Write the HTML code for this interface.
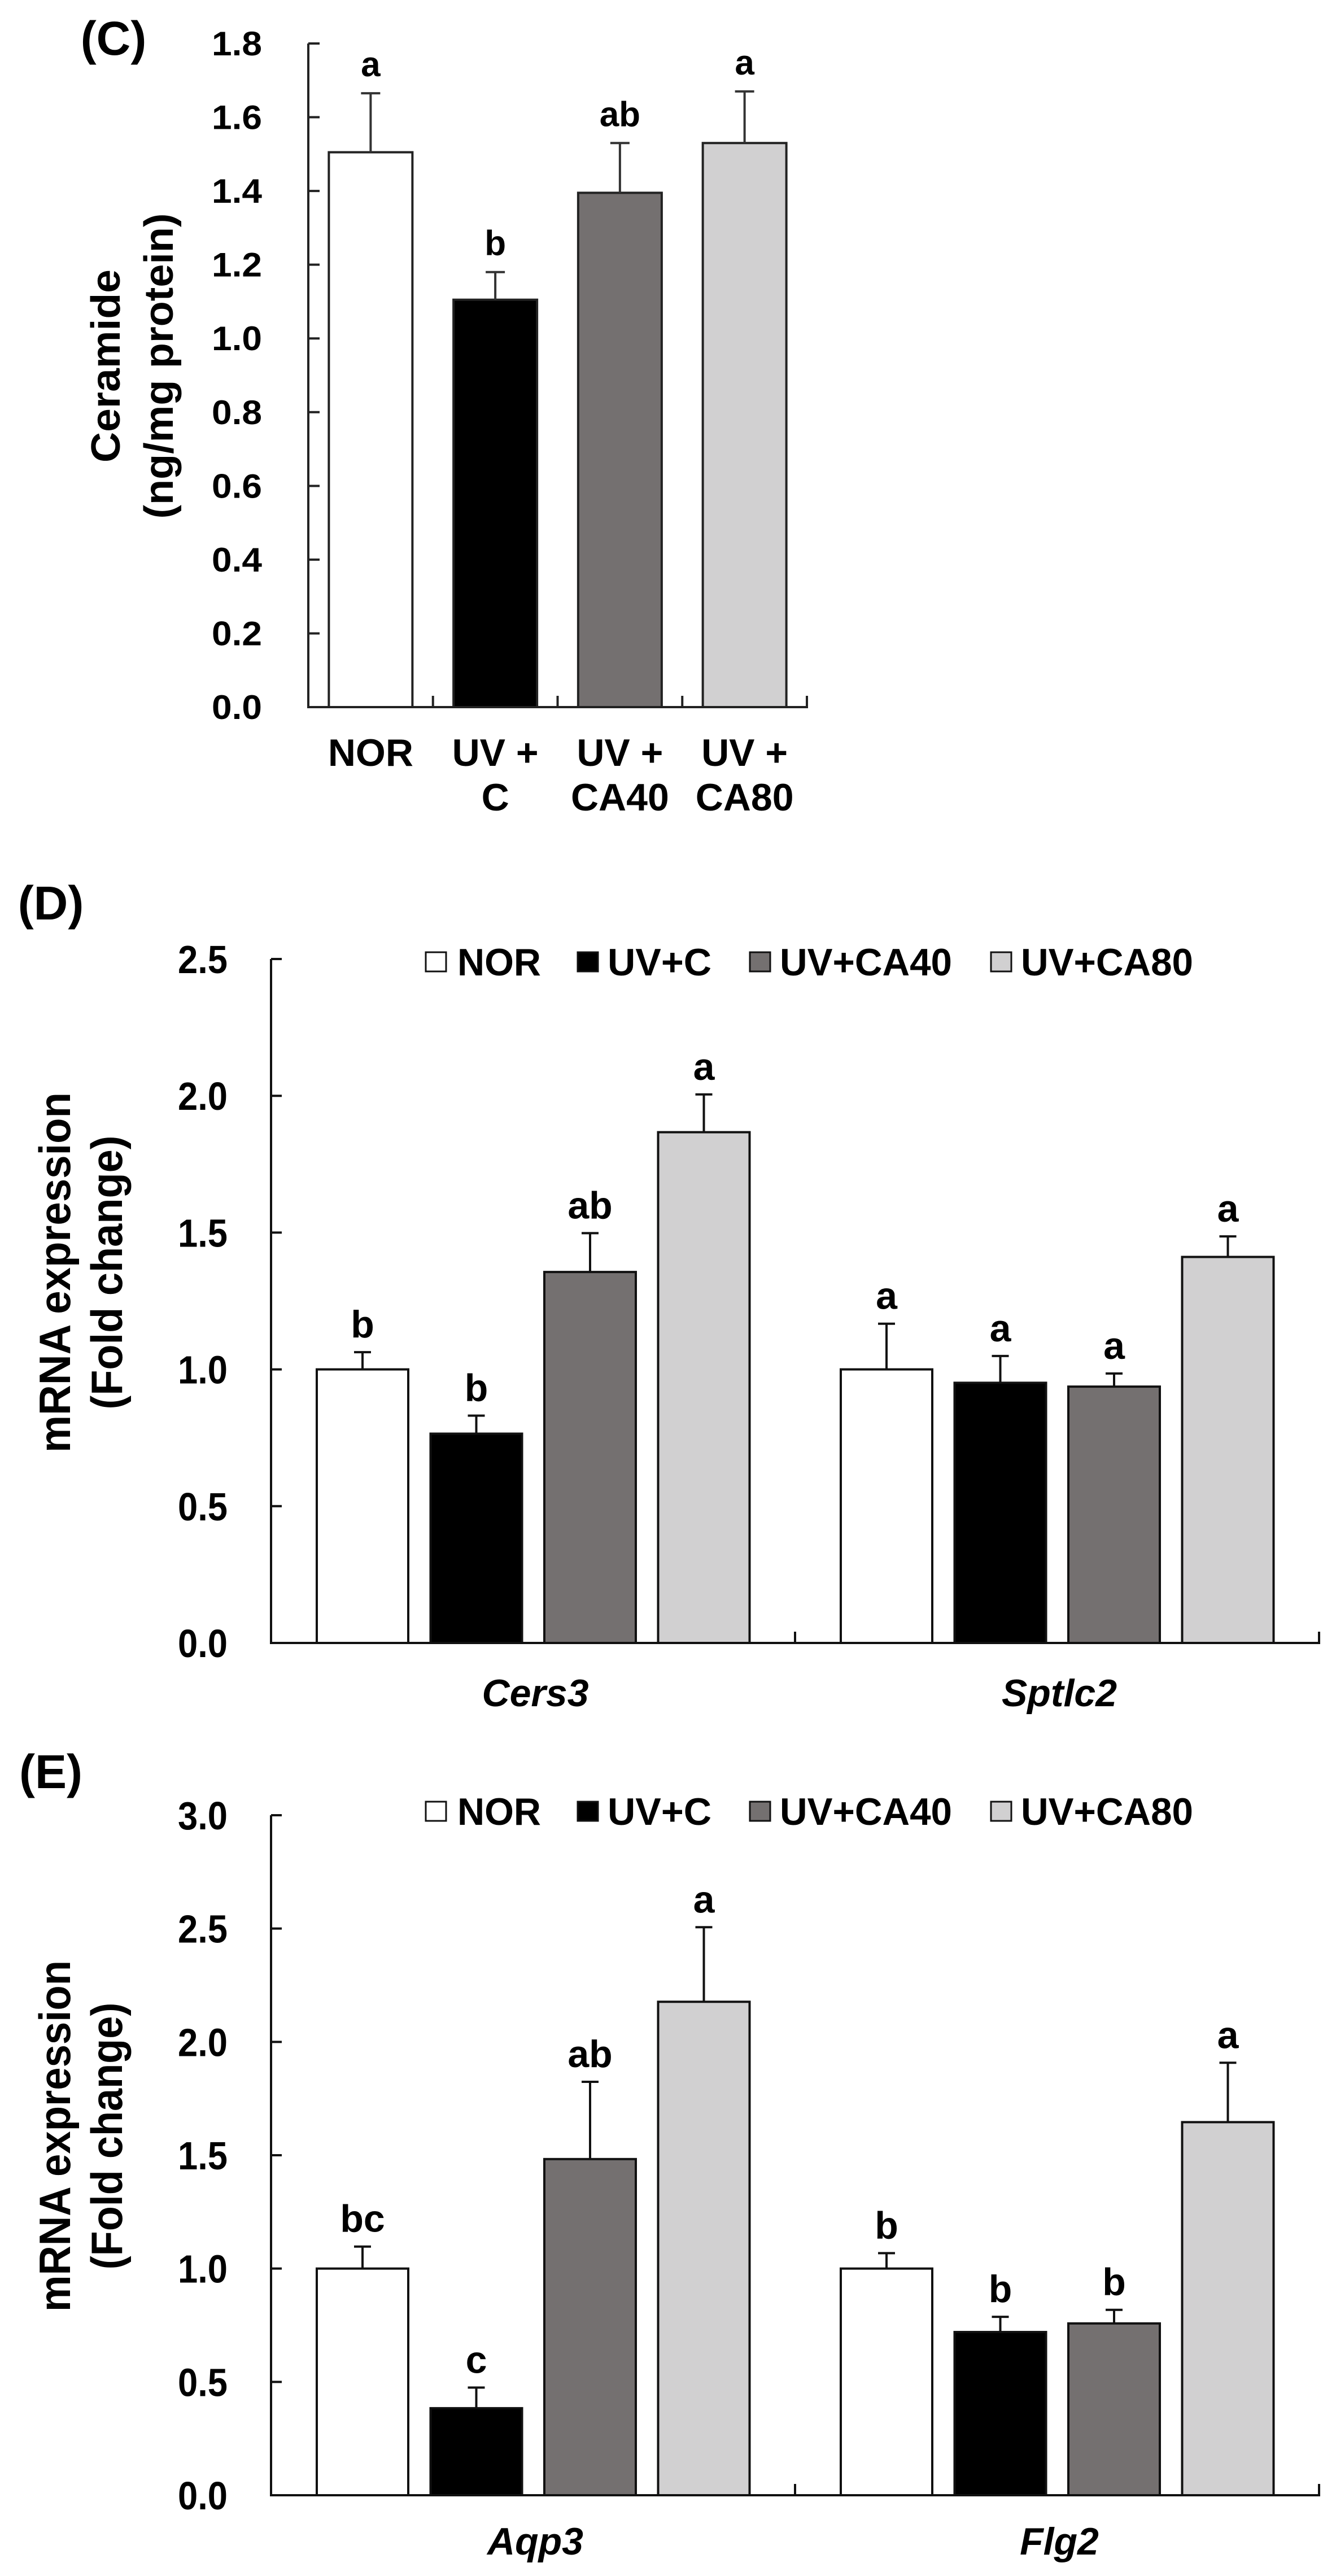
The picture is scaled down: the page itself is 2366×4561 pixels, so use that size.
<!DOCTYPE html>
<html><head><meta charset="utf-8"><style>
html,body{margin:0;padding:0;background:#fff;}
svg{display:block;font-family:"Liberation Sans",Arial,sans-serif;font-weight:bold;}
</style></head><body>
<svg id="fig" xmlns="http://www.w3.org/2000/svg" width="2366" height="4561" viewBox="0 0 2366 4561">
<rect width="2366" height="4561" fill="#fff"/>
</svg>
<script>
// ---------- Panel C data ----------
const cGroups = ['NOR', 'UV+C', 'UV+CA40', 'UV+CA80'];
const cLine1 = ['NOR', 'UV +', 'UV +', 'UV +'];
const cLine2 = ['', 'C', 'CA40', 'CA80'];
const cValues = [1.505, 1.105, 1.395, 1.53];
const cErrors = [0.16, 0.075, 0.135, 0.14];
const cLetters = ['a', 'b', 'ab', 'a'];
const cTicks = ['0.0','0.2','0.4','0.6','0.8','1.0','1.2','1.4','1.6','1.8'];

// ---------- Panel D data ----------
const dCategories = ['Cers3', 'Sptlc2'];
const dNor = [1.0, 1.0];
const dUvc = [0.765, 0.951];
const dCa40 = [1.356, 0.937];
const dCa80 = [1.867, 1.411];
const dNorErr = [0.063, 0.167];
const dUvcErr = [0.066, 0.098];
const dCa40Err = [0.142, 0.048];
const dCa80Err = [0.138, 0.075];
const dLetters = [['b','b','ab','a'], ['a','a','a','a']];
const dTicks = ['0.0','0.5','1.0','1.5','2.0','2.5'];

// ---------- Panel E data ----------
const eCategories = ['Aqp3', 'Flg2'];
const eNor = [1.0, 1.0];
const eUvc = [0.384, 0.72];
const eCa40 = [1.483, 0.758];
const eCa80 = [2.177, 1.646];
const eNorErr = [0.097, 0.068];
const eUvcErr = [0.091, 0.067];
const eCa40Err = [0.341, 0.06];
const eCa80Err = [0.329, 0.262];
const eLetters = [['bc','c','ab','a'], ['b','b','b','a']];
const eTicks = ['0.0','0.5','1.0','1.5','2.0','2.5','3.0'];

const seriesNames = ['NOR', 'UV+C', 'UV+CA40', 'UV+CA80'];
const fills = ['#ffffff', '#000000', '#747070', '#d1d0d1'];

const NS = 'http://www.w3.org/2000/svg';
const svg = document.getElementById('fig');
function mk(tag, attrs, parent) {
  const el = document.createElementNS(NS, tag);
  for (const k in attrs) el.setAttribute(k, attrs[k]);
  (parent || svg).appendChild(el);
  return el;
}
function txt(str, attrs, parent) {
  const t = mk('text', attrs, parent);
  t.textContent = str;
  return t;
}

// ================= Panel C =================
(function () {
  const g = mk('g', {});
  
  
  const x0 = 546, x1 = 1429, yBase = 1252, yTop = 77, vMax = 1.8;
  const y = v => yBase - (v / vMax) * (yBase - yTop);
  const catW = (x1 - x0) / cGroups.length;
  const barW = 148;

  const lab = txt('(C)', {x: 201, y: 97, 'font-size': 84, 'text-anchor': 'middle'}, g);
  
  

  cValues.forEach((v, i) => {
    const cx = x0 + catW * (i + 0.5);
    const r = mk('rect', {x: cx - barW / 2, y: y(v), width: barW, height: yBase - y(v), fill: fills[i], stroke: '#222', 'stroke-width': 4}, g);
    
    
    const et = y(v + cErrors[i]);
    const e = mk('path', {d: `M${cx},${y(v)} V${et} M${cx - 17},${et} H${cx + 17}`, stroke: '#333', 'stroke-width': 4, fill: 'none'}, g);
    
    
    const l = txt(cLetters[i], {x: cx, y: et - 30, 'font-size': 62, 'text-anchor': 'middle'}, g);
    
    
    const a = txt(cLine1[i], {x: cx, y: 1356, 'font-size': 68, 'text-anchor': 'middle'}, g);
    
    
    if (cLine2[i]) {
      const b = txt(cLine2[i], {x: cx, y: 1435, 'font-size': 68, 'text-anchor': 'middle'}, g);
      
      
    }
  });
  const ax = mk('path', {d: `M${x0},${yTop} V${yBase} H${x1} V${yBase - 20}`, stroke: '#222', 'stroke-width': 4, fill: 'none'}, g);
  
  
  for (let i = 1; i < cGroups.length; i++) {
    const tx = x0 + catW * i;
    mk('line', {x1: tx, x2: tx, y1: yBase, y2: yBase - 20, stroke: '#222', 'stroke-width': 4}, g);
  }
  cTicks.forEach(t => {
    const yy = y(parseFloat(t));
    mk('line', {x1: x0, x2: x0 + 20, y1: yy, y2: yy, stroke: '#222', 'stroke-width': 4}, g);
    const tl = txt(t, {x: 464, y: yy + 21, 'font-size': 60, 'text-anchor': 'end', textLength: 89, lengthAdjust: 'spacingAndGlyphs'}, g);
    
    
  });
  const t1 = txt('Ceramide', {x: 0, y: 0, 'font-size': 72, 'text-anchor': 'middle', textLength: 342, lengthAdjust: 'spacingAndGlyphs', transform: 'translate(212,648) rotate(-90)'}, g);
  
  
  const t2 = txt('(ng/mg protein)', {x: 0, y: 0, 'font-size': 72, 'text-anchor': 'middle', textLength: 541, lengthAdjust: 'spacingAndGlyphs', transform: 'translate(306,648) rotate(-90)'}, g);
  
  
})();

// ================= Panels D & E =================
function groupedChart(opts) {
  const g = mk('g', {});
  
  
  const x0 = 480, x1 = 2336, yBase = opts.yBase, yTop = opts.yTop, vMax = opts.vMax;
  const y = v => yBase - (v / vMax) * (yBase - yTop);
  const gw = (x1 - x0) / opts.categories.length;
  const barW = 162, step = 201.5, off = 81;

  const pl = txt(opts.label, {x: 90, y: opts.labelY, 'font-size': 84, 'text-anchor': 'middle'}, g);
  
  

  opts.categories.forEach((cat, gi) => {
    opts.series.forEach((ser, si) => {
      const v = ser[gi];
      const ev = opts.errors[si][gi];
      const bx = x0 + gi * gw + off + si * step;
      const cx = bx + barW / 2;
      const r = mk('rect', {x: bx, y: y(v), width: barW, height: yBase - y(v), fill: fills[si], stroke: '#111', 'stroke-width': 4}, g);
      
      
      const et = y(v + ev);
      const e = mk('path', {d: `M${cx},${y(v)} V${et} M${cx - 15},${et} H${cx + 15}`, stroke: '#111', 'stroke-width': 4, fill: 'none'}, g);
      
      
      const l = txt(opts.letters[gi][si], {x: cx, y: et - 26, 'font-size': 68, 'text-anchor': 'middle'}, g);
      
      
    });
    const cl = txt(cat, {x: x0 + gw * (gi + 0.5) + 4, y: opts.catY, 'font-size': 68, 'font-style': 'italic', 'text-anchor': 'middle'}, g);
    
    
  });
  const ax = mk('path', {d: `M${x0},${yTop} V${yBase} H${x1} V${yBase - 20}`, stroke: '#111', 'stroke-width': 4, fill: 'none'}, g);
  
  
  for (let i = 1; i < opts.categories.length; i++) {
    const tx = x0 + gw * i;
    mk('line', {x1: tx, x2: tx, y1: yBase, y2: yBase - 20, stroke: '#111', 'stroke-width': 4}, g);
  }
  opts.ticks.forEach(t => {
    const yy = y(parseFloat(t));
    mk('line', {x1: x0, x2: x0 + 19, y1: yy, y2: yy, stroke: '#111', 'stroke-width': 4}, g);
    const tl = txt(t, {x: 403, y: yy + 25, 'font-size': 70, 'text-anchor': 'end', textLength: 88, lengthAdjust: 'spacingAndGlyphs'}, g);
    
    
  });
  const t1 = txt('mRNA expression', {x: 0, y: 0, 'font-size': 78, 'text-anchor': 'middle', textLength: opts.titleLen, lengthAdjust: 'spacingAndGlyphs', transform: `translate(124,${opts.titleY}) rotate(-90)`}, g);
  
  
  const t2 = txt('(Fold change)', {x: 0, y: 0, 'font-size': 78, 'text-anchor': 'middle', textLength: opts.titleLen * 0.76, lengthAdjust: 'spacingAndGlyphs', transform: `translate(216,${opts.titleY}) rotate(-90)`}, g);
  
  

  const sqX = [754, 1023, 1328, 1755];
  const txX = [810, 1076, 1381, 1808];
  const txW = [148, 184, 305, 305];
  seriesNames.forEach((n, i) => {
    const lg = mk('g', {}, g);
    
    
    mk('rect', {x: sqX[i], y: opts.legendY - 17, width: 36, height: 34, fill: fills[i], stroke: '#111', 'stroke-width': 3}, lg);
    txt(n, {x: txX[i], y: opts.legendY + 24, 'font-size': 68, textLength: txW[i], lengthAdjust: 'spacingAndGlyphs'}, lg);
  });
}

groupedChart({
  name: 'panel-d-chart', label: '(D)', labelY: 1628,
  yTop: 1698, yBase: 2909, vMax: 2.5,
  categories: dCategories,
  series: [dNor, dUvc, dCa40, dCa80],
  errors: [dNorErr, dUvcErr, dCa40Err, dCa80Err],
  letters: dLetters, ticks: dTicks,
  catY: 3021, titleY: 2253, titleLen: 638, legendY: 1703
});
groupedChart({
  name: 'panel-e-chart', label: '(E)', labelY: 3166,
  yTop: 3214, yBase: 4418, vMax: 3.0,
  categories: eCategories,
  series: [eNor, eUvc, eCa40, eCa80],
  errors: [eNorErr, eUvcErr, eCa40Err, eCa80Err],
  letters: eLetters, ticks: eTicks,
  catY: 4523, titleY: 3782, titleLen: 622, legendY: 3207
});
</script>
</body></html>
